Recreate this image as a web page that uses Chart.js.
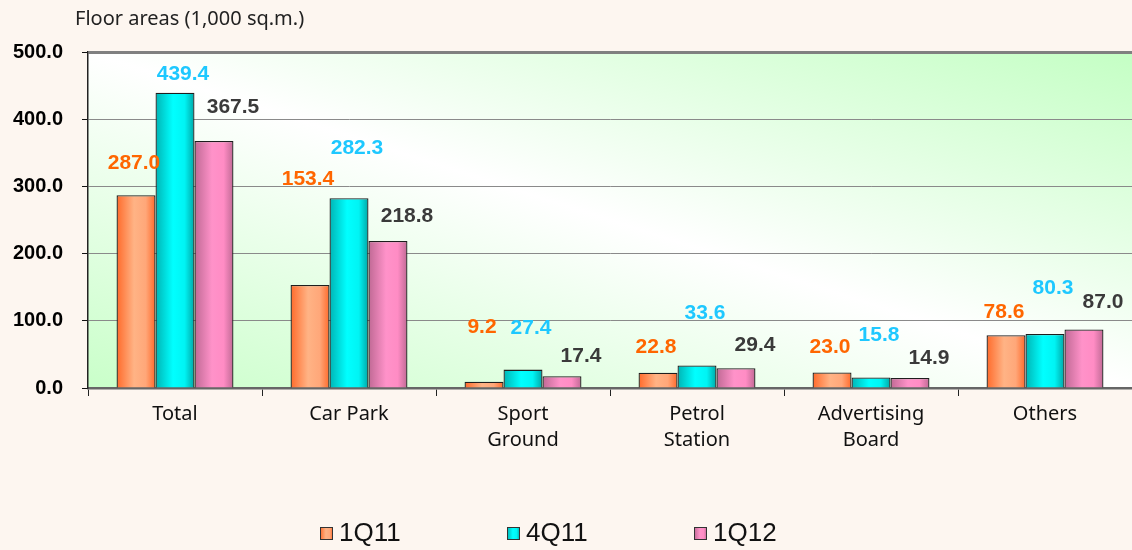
<!DOCTYPE html>
<html>
<head>
<meta charset="utf-8">
<script src="https://cdn.jsdelivr.net/npm/chart.js@4/dist/chart.umd.min.js"></script>
<style>
  html, body { margin: 0; padding: 0; background: #fdf6f0; }
  #wrap { width: 1132px; height: 550px; }
</style>
</head>
<body>
<div id="wrap"><canvas id="floorChart"></canvas></div>
<script>
// values (1,000 sq.m.)
const categories = ['Total', 'Car Park', ['Sport', 'Ground'], ['Petrol', 'Station'], ['Advertising', 'Board'], 'Others'];
const seriesNames = ['1Q11', '4Q11', '1Q12'];
const values1Q11 = [287.0, 153.4, 9.2, 22.8, 23.0, 78.6];
const values4Q11 = [439.4, 282.3, 27.4, 33.6, 15.8, 80.3];
const values1Q12 = [367.5, 218.8, 17.4, 29.4, 14.9, 87.0];
const yTicks = [0, 100, 200, 300, 400, 500];

// where each value label sits, in axis units (labels are hand-placed in the original)
const labelAt1Q11 = [335, 310, 91, 60, 60, 113];
const labelAt4Q11 = [467, 357, 89, 112, 79, 149];
const labelAt1Q12 = [418, 256, 48, 64, 45, 127];

const CAT_PCT = 0.672;

const styles = [
  { stops: ['#ff6a2a', '#ffb385', '#ffa779', '#ff6a2a'], text: '#ff6600', dx: -2 },
  { stops: ['#00b4b4', '#00ffff', '#00f4f4', '#00a6a6'], text: '#1ec8ff', dx: 8 },
  { stops: ['#bf6994', '#ff92c9', '#ff8cc4', '#bf6994'], text: '#3a3a3a', dx: 19 }
];

function barGradient(ctx, left, width, stops) {
  const g = ctx.createLinearGradient(left, 0, left + width, 0);
  g.addColorStop(0, stops[0]);
  g.addColorStop(0.45, stops[1]);
  g.addColorStop(0.75, stops[2]);
  g.addColorStop(1, stops[3]);
  return g;
}

function barFill(c) {
  const st = styles[c.datasetIndex];
  const xs = c.chart.scales && c.chart.scales.x;
  if (c.type !== 'data' || !xs) return st.stops[1];
  const catW = xs.width / categories.length;
  const barW = catW * CAT_PCT / seriesNames.length;
  const left = xs.getPixelForValue(c.dataIndex) - catW * CAT_PCT / 2 + c.datasetIndex * barW;
  if (!Number.isFinite(left) || !Number.isFinite(barW) || barW <= 0) return st.stops[1];
  return barGradient(c.chart.ctx, left, barW, st.stops);
}

const plotBackground = {
  id: 'plotBackground',
  beforeDraw(chart) {
    const { ctx, chartArea: a } = chart;
    if (!a) return;
    const w = a.right - a.left, h = a.bottom - a.top;
    const cx = a.left + w / 2, cy = a.top + h / 2;
    const len = Math.hypot(w, h);
    const ux = h / len, uy = -w / len;
    const d = (w * h) / len;
    const g = ctx.createLinearGradient(cx - ux * d, cy - uy * d, cx + ux * d, cy + uy * d);
    g.addColorStop(0, '#c9ffc9');
    g.addColorStop(0.5, '#ffffff');
    g.addColorStop(1, '#c4ffc4');
    ctx.save();
    ctx.fillStyle = g;
    ctx.fillRect(a.left, a.top, w, h);
    ctx.fillStyle = '#222';
    ctx.font = '20px "Noto Sans"';
    ctx.textBaseline = 'middle';
    ctx.fillText('Floor areas (1,000 sq.m.)', 75, 19);
    ctx.restore();
  }
};

const valueLabels = {
  id: 'valueLabels',
  afterDatasetsDraw(chart) {
    const { ctx } = chart;
    const ys = chart.scales.y;
    const levels = [labelAt1Q11, labelAt4Q11, labelAt1Q12];
    ctx.save();
    ctx.font = 'bold 21px "Liberation Sans", Arial';
    ctx.textAlign = 'center';
    ctx.textBaseline = 'middle';
    chart.data.datasets.forEach((ds, di) => {
      const meta = chart.getDatasetMeta(di);
      ctx.fillStyle = styles[di].text;
      meta.data.forEach((bar, i) => {
        ctx.fillText(ds.data[i].toFixed(1), bar.x + styles[di].dx, ys.getPixelForValue(levels[di][i]));
      });
    });
    ctx.restore();
  }
};

const bottomLegend = {
  id: 'bottomLegend',
  afterDraw(chart) {
    const { ctx } = chart;
    ctx.save();
    ctx.font = '26px "Liberation Sans", Arial';
    ctx.textBaseline = 'middle';
    seriesNames.forEach((name, i) => {
      const x = 320 + i * 187, y = 527;
      ctx.fillStyle = barGradient(ctx, x, 13, styles[i].stops);
      ctx.fillRect(x, y, 13, 13);
      ctx.strokeStyle = '#333';
      ctx.lineWidth = 1;
      ctx.strokeRect(x + 0.5, y + 0.5, 12, 12);
      ctx.fillStyle = '#111';
      ctx.fillText(name, x + 19, y + 7);
    });
    ctx.restore();
  }
};

const seriesData = [values1Q11, values4Q11, values1Q12];

new Chart(document.getElementById('floorChart'), {
  type: 'bar',
  data: {
    labels: categories,
    datasets: seriesNames.map((name, i) => ({
      label: name,
      data: seriesData[i],
      backgroundColor: barFill,
      borderColor: '#1e1e1e',
      borderWidth: 1.3,
      borderSkipped: 'bottom',
      categoryPercentage: CAT_PCT,
      barPercentage: 1
    }))
  },
  options: {
    responsive: true,
    maintainAspectRatio: false,
    animation: false,
    layout: { padding: { top: 52, right: 0, bottom: 0, left: 0 } },
    plugins: {
      legend: { display: false },
      tooltip: { enabled: false }
    },
    scales: {
      x: {
        afterFit: s => { s.height = 162; },
        border: { color: '#666', width: 2.5 },
        grid: {
          offset: true,
          drawOnChartArea: false,
          tickLength: 8,
          tickColor: '#222'
        },
        ticks: {
          padding: 5,
          color: '#111',
          font: { family: '"Noto Sans"', size: 20, lineHeight: 1.3 }
        }
      },
      y: {
        min: 0,
        max: 500,
        afterFit: s => { s.width = 88; },
        afterBuildTicks: s => { s.ticks = yTicks.map(v => ({ value: v })); },
        border: { color: '#222', width: 1.5 },
        grid: {
          color: c => c.tick.value === 500 ? '#808080' : (c.tick.value === 0 ? 'rgba(0,0,0,0)' : '#8a8a8a'),
          lineWidth: c => c.tick.value === 500 ? 3 : 1,
          borderDash: [2, 2],
          tickLength: 6,
          tickColor: '#111',
          tickWidth: 1,
          tickBorderDash: []
        },
        ticks: {
          padding: 19,
          color: '#000',
          font: { family: '"Liberation Sans", Arial', size: 20, weight: 'bold' },
          callback: v => v.toFixed(1)
        }
      }
    }
  },
  plugins: [plotBackground, valueLabels, bottomLegend]
});
</script>
</body>
</html>
